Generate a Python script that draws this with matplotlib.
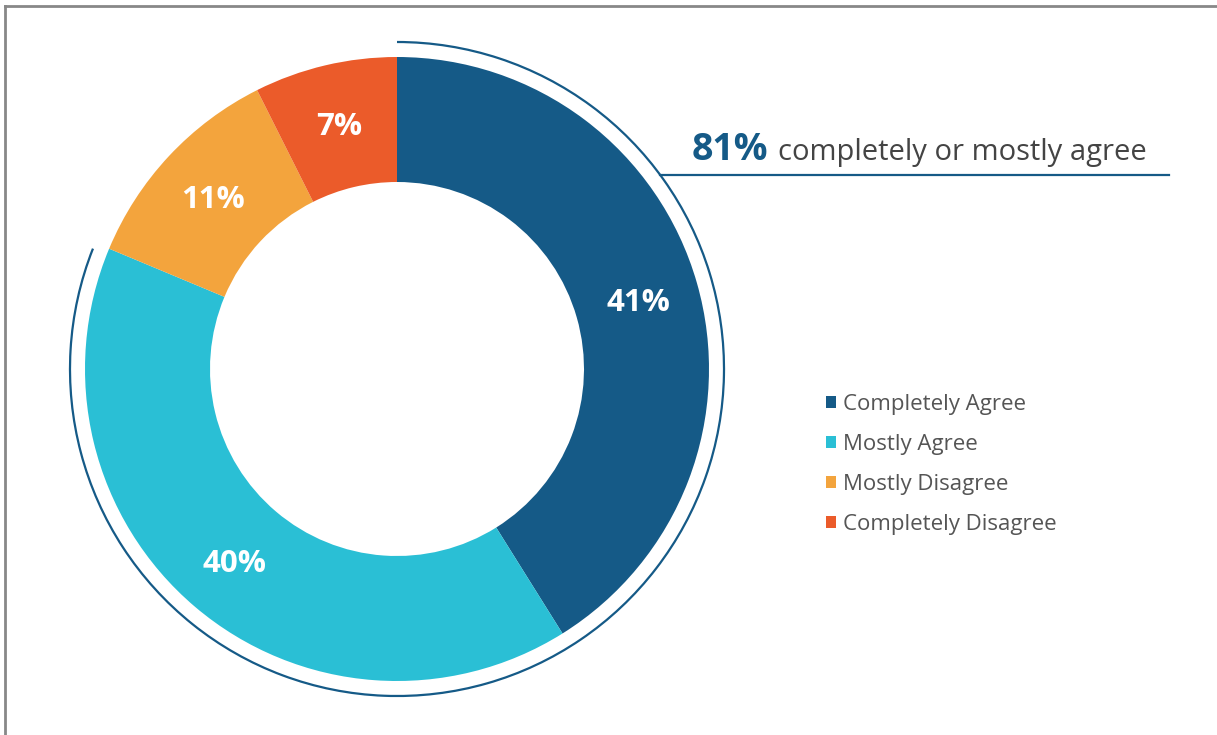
import matplotlib.pyplot as plt
from matplotlib.patches import Arc
from matplotlib.lines import Line2D
import numpy as np

# data
labels = ["Completely Agree", "Mostly Agree", "Mostly Disagree", "Completely Disagree"]
values = [41.1, 40.2, 11.3, 7.4]
value_labels = ["41%", "40%", "11%", "7%"]
colors = ["#155a87", "#2abfd5", "#f3a43d", "#eb5b2a"]
agree_share = 81

plt.rcParams['font.family'] = ['Open Sans', 'DejaVu Sans']

W, H = 1217, 735
fig = plt.figure(figsize=(W / 100, H / 100), dpi=100)
ax = fig.add_axes([0, 0, 1, 1])
ax.axis('off')

cx, cy = 397, H - 369
r_out, ring = 312, 125

wedges, _ = ax.pie(values, colors=colors, radius=r_out, center=(cx, cy),
                   startangle=90, counterclock=False,
                   wedgeprops=dict(width=ring, linewidth=0))
ax.set_xlim(0, W)
ax.set_ylim(0, H)
ax.set_aspect('auto')

# percentage labels inside the ring
total = sum(values)
start = 90
for v, lab in zip(values, value_labels):
    mid = np.deg2rad(start - v / total * 180)
    rr = r_out - ring / 2 + 2
    ax.text(cx + rr * np.cos(mid), cy + rr * np.sin(mid) - 3, lab,
            color="white", fontsize=22.5, fontweight="bold",
            ha="center", va="center")
    start -= v / total * 360

# bracket arc for the agree share
r_arc = 327
end_ang = 90 - agree_share / 100 * 360
ax.add_patch(Arc((cx, cy), 2 * r_arc, 2 * r_arc, theta1=end_ang, theta2=90,
                 color="#155a87", lw=1.6))

# leader line and headline
ly = H - 175
lx0 = cx + np.sqrt(r_arc ** 2 - (ly - cy) ** 2)
ax.plot([lx0, 1169], [ly, ly], color="#155a87", lw=1.6)
t1 = ax.text(692, H - 160, f"{agree_share}%", color="#155a87", fontsize=27,
             fontweight="bold", ha="left", va="baseline")
fig.canvas.draw()
bb = t1.get_window_extent()
ax.text(bb.x1 + 9, H - 160, "completely or mostly agree", color="#444444",
        fontsize=21, ha="left", va="baseline")

# legend
ax.legend(wedges, labels, loc="center left", bbox_to_anchor=(826 / W, 1 - 464.5 / H),
          frameon=False, fontsize=16, labelcolor="#555555",
          handlelength=0.45, handleheight=0.45, handletextpad=0.3,
          labelspacing=0.86, borderpad=0, borderaxespad=0)

# outer frame (left and top)
fig.add_artist(Line2D([5 / W, 5 / W], [0, 1 - 6 / H], color="#888888", lw=2))
fig.add_artist(Line2D([5 / W, 1], [1 - 6 / H, 1 - 6 / H], color="#888888", lw=2))

fig.savefig("out.png", dpi=100)
